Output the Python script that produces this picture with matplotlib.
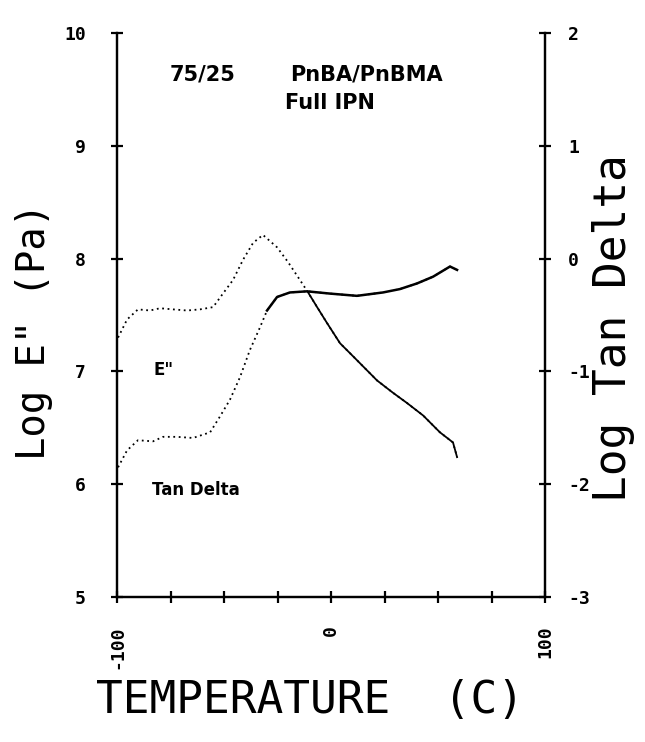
import numpy as np
import matplotlib.pyplot as plt

# temperatura (C) y log E'' (Pa)
t_e = [-99.5, -95.3, -90.2, -84.6, -79.9, -73.8, -67.3, -61.2, -55.1, -50.5,
       -45.8, -41.1, -36.4, -31.8, -25.2, -20.1, -14.5, -10.7, -6.5, -1.9,
       4.2, 12.1, 21.5, 29.0, 35.5, 43.0, 50.9, 57.0, 58.9]
log_e = [7.30, 7.46, 7.55, 7.54, 7.56, 7.55, 7.54, 7.55, 7.57, 7.69,
         7.81, 7.99, 8.14, 8.21, 8.10, 7.97, 7.81, 7.70, 7.57, 7.43,
         7.25, 7.10, 6.92, 6.81, 6.72, 6.61, 6.46, 6.37, 6.24]

# temperatura (C) y log tan delta
t_tan = [-99.5, -95.3, -90.2, -83.2, -78.5, -72.0, -64.5, -56.5, -51.9, -47.2,
         -42.5, -37.9, -33.2, -29.9, -25.2, -19.2, -11.2, -0.5, 12.1, 24.3,
         32.2, 40.2, 47.7, 55.6, 58.9]
log_tan = [-1.85, -1.70, -1.61, -1.62, -1.58, -1.58, -1.59, -1.54, -1.40, -1.25,
           -1.05, -0.81, -0.61, -0.46, -0.34, -0.30, -0.29, -0.31, -0.33, -0.30,
           -0.27, -0.22, -0.16, -0.07, -0.10]

fig = plt.figure(figsize=(6.45, 7.42), dpi=100)
ax = fig.add_axes([0.1814, 0.1954, 0.6636, 0.7601])
ax2 = ax.twinx()

ax.plot(t_e, log_e, color='black', linestyle=(0, (1, 2)), linewidth=1.3)
ax.plot(t_e[17:], log_e[17:], color='black', linewidth=1.3)
ax2.plot(t_tan, log_tan, color='black', linestyle=(0, (1, 2)), linewidth=1.3)
ax2.plot(t_tan[13:], log_tan[13:], color='black', linewidth=1.8)

ax.set_xlim(-100, 100)
ax.set_ylim(5, 10)
ax2.set_ylim(-3, 2)

for a in (ax, ax2):
    a.spines['top'].set_visible(False)
    for s in a.spines.values():
        s.set_linewidth(1.6)
    a.tick_params(direction='inout', length=9, width=1.6)

mono = dict(family='DejaVu Sans Mono', weight='bold', size=13)
ax.set_xticks(np.arange(-100, 101, 25))
ax.set_xticklabels(['-100', '', '', '', '0', '', '', '', '100'], rotation=90, **mono)
ax.set_yticks(range(5, 11))
ax.set_yticklabels([str(v) for v in range(5, 11)], **mono)
ax2.set_yticks(range(-3, 3))
ax2.set_yticklabels([str(v) for v in range(-3, 3)], **mono)
ax.tick_params(axis='x', pad=16)
ax.tick_params(axis='y', pad=18)
ax2.tick_params(axis='y', pad=12)

ax.set_ylabel('Log E" (Pa)', fontsize=28, family='DejaVu Sans Mono',
              va='center', ha='center')
ax.yaxis.set_label_coords(-0.194, 0.47)
ax2.set_ylabel("Log Tan Delta", fontsize=32, family='DejaVu Sans Mono',
               rotation=90, va='center', ha='center')
ax2.yaxis.set_label_coords(1.159, 0.477)
ax.set_xlabel("TEMPERATURE  (C)", fontsize=32, family='DejaVu Sans Mono',
              va='center', ha='center')
ax.xaxis.set_label_coords(0.451, -0.183)

fig.text(0.263, 0.899, "75/25", fontsize=15, weight='bold', ha='left', va='center')
fig.text(0.45, 0.899, "PnBA/PnBMA", fontsize=15, weight='bold', ha='left', va='center')
fig.text(0.442, 0.861, "Full IPN", fontsize=15, weight='bold', ha='left', va='center')
fig.text(0.238, 0.501, 'E"', fontsize=12, weight='bold', ha='left', va='center')
fig.text(0.236, 0.339, "Tan Delta", fontsize=12, weight='bold', ha='left', va='center')

fig.savefig('out.png', dpi=100)
